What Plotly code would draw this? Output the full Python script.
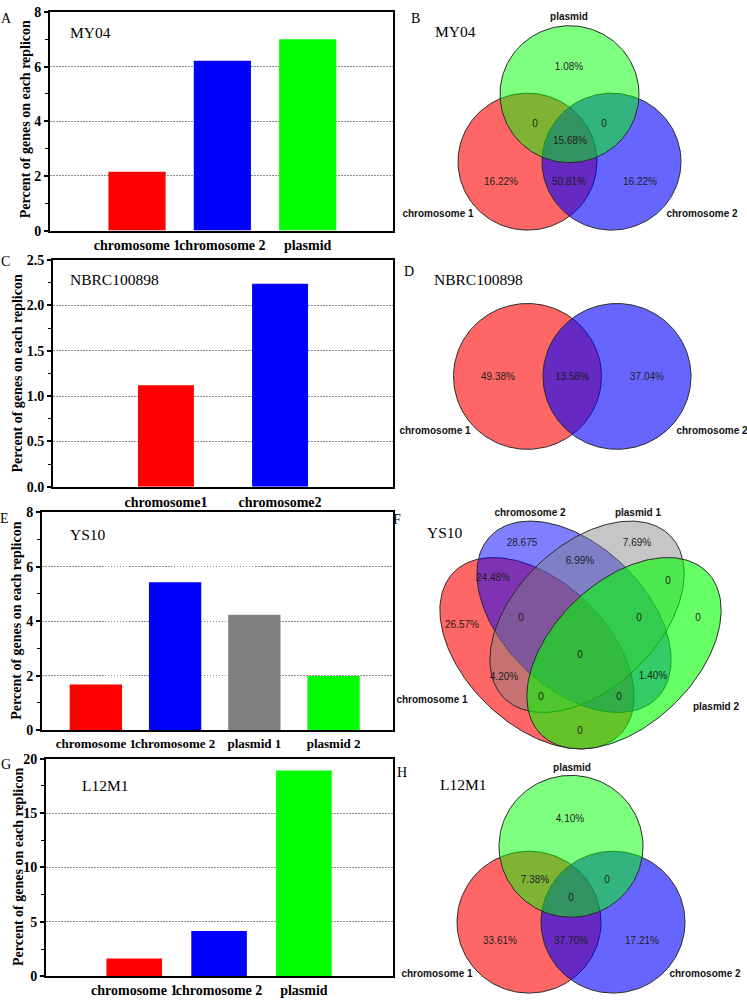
import numpy as np
import plotly.graph_objects as go

W, H = 747, 1007

# ------------------------------------------------------------------ data
a_title = "MY04"
a_categories = ["chromosome 1", "chromosome 2", "plasmid"]
a_values = [2.15, 6.21, 7.0]

c_title = "NBRC100898"
c_categories = ["chromosome1", "chromosome2"]
c_values = [1.12, 2.24]

e_title = "YS10"
e_categories = ["chromosome 1", "chromosome 2", "plasmid 1", "plasmid 2"]
e_values = [1.67, 5.43, 4.24, 1.99]

g_title = "L12M1"
g_categories = ["chromosome 1", "chromosome 2", "plasmid"]
g_values = [1.63, 4.16, 18.9]

y_title = "Percent of genes on each replicon"

# Venn B (MY04): set names and region values
b_sets = ["chromosome 1", "chromosome 2", "plasmid"]
# chr1 only, chr2 only, plasmid only, chr1&chr2, chr1&plasmid, chr2&plasmid, all
b_regions = ["16.22%", "16.22%", "1.08%", "50.81%", "0", "0", "15.68%"]

# Venn D (NBRC100898)
d_sets = ["chromosome 1", "chromosome 2"]
# chr1 only, both, chr2 only
d_regions = ["49.38%", "13.58%", "37.04%"]

# Venn F (YS10)
f_sets = ["chromosome 1", "chromosome 2", "plasmid 1", "plasmid 2"]
# c1, c2, p1, p2, c1c2, c1p1, c1p2, c2p1, c2p2, p1p2, c1c2p1, c1c2p2, c1p1p2, c2p1p2, all
f_regions = ["26.57%", "28.675", "7.69%", "0", "24.48%", "4.20%", "0", "6.99%",
             "1.40%", "0", "0", "0", "0", "0", "0"]

# Venn H (L12M1)
h_sets = ["chromosome 1", "chromosome 2", "plasmid"]
h_regions = ["33.61%", "17.21%", "4.10%", "37.70%", "7.38%", "0", "0"]

# ------------------------------------------------------------------ styles / layout
RED, BLUE, GRAY, GREEN = "#FF0000", "#0000FF", "#808080", "#00FF00"
SERIF = "Liberation Serif"
SANS = "Liberation Sans"

# pixel boxes of bar panels: (left, top, right, bottom)
bar_panels = [
    dict(cats=a_categories, vals=a_values, colors=[RED, BLUE, GREEN], box=(50, 5, 393, 227),
         xr=[-1.02, 3.0], yr=[0, 8], dtick=2, minor=1, width=0.67, fmt="", xfs=14, xtl=1),
    dict(cats=c_categories, vals=c_values, colors=[RED, BLUE], box=(53, 257, 393, 487),
         xr=[-0.99, 1.99], yr=[0, 2.5], dtick=0.5, minor=0.25, width=0.49, fmt=".1f", xfs=14, xtl=1),
    dict(cats=e_categories, vals=e_values, colors=[RED, BLUE, GRAY, GREEN], box=(42, 513, 393, 734),
         xr=[-0.68, 3.75], yr=[0, 8], dtick=2, minor=1, width=0.66, fmt="", xfs=13, xtl=0),
    dict(cats=g_categories, vals=g_values, colors=[RED, BLUE, GREEN], box=(46, 763, 393, 984),
         xr=[-1.04, 3.05], yr=[0, 20], dtick=5, minor=2.5, width=0.655, fmt="", xfs=14, xtl=0),
]

fig = go.Figure()
layout = dict(width=W, height=H, margin=dict(l=0, r=0, t=0, b=0),
              paper_bgcolor="white", plot_bgcolor="rgba(0,0,0,0)", showlegend=False)

for i, p in enumerate(bar_panels, start=1):
    sx = "" if i == 1 else str(i)
    x0, y0, x1, y1 = p["box"]
    fig.add_trace(go.Bar(x=p["cats"], y=p["vals"], marker=dict(color=p["colors"], line=dict(width=0)),
                         width=p["width"], xaxis="x" + sx, yaxis="y" + sx, hoverinfo="skip"))
    layout["xaxis" + sx] = dict(
        domain=[x0 / W, x1 / W], range=p["xr"], anchor="y" + sx, type="category",
        showline=True, linecolor="black", linewidth=2, mirror=True,
        ticks="outside" if p["xtl"] > 0 else "", ticklen=max(p["xtl"], 1), tickcolor="rgba(0,0,0,0)",
        tickangle=0,
        tickfont=dict(family=SERIF, size=p["xfs"], color="black", weight="bold"),
        showgrid=False, zeroline=False, fixedrange=True)
    layout["yaxis" + sx] = dict(
        domain=[1 - y1 / H, 1 - y0 / H], range=p["yr"], anchor="x" + sx,
        showline=True, linecolor="black", linewidth=2, mirror=True,
        ticks="outside", ticklen=4, tickwidth=1.5, tickcolor="black",
        tick0=0, dtick=p["dtick"], tickformat=p["fmt"],
        minor=dict(ticks="outside", ticklen=3, tickwidth=1.2, dtick=p["minor"], tickcolor="black", showgrid=False),
        showgrid=True, gridcolor="#8a8a8a", gridwidth=1, griddash="1.5px,1.5px",
        zeroline=False, fixedrange=True,
        tickfont=dict(family=SERIF, size=14, color="black", weight="bold"))

# overlay axis in pixel units for Venn diagrams and free text
layout["xaxis5"] = dict(domain=[0, 1], range=[0, W], anchor="y5", visible=False, fixedrange=True)
layout["yaxis5"] = dict(domain=[0, 1], range=[H, 0], anchor="x5", visible=False, fixedrange=True)

OUTLINE = dict(color="#2a2a2a", width=1)


def ellipse_xy(cx, cy, a, b, ang_deg, n=240):
    t = np.linspace(0, 2 * np.pi, n)
    ang = np.deg2rad(ang_deg)
    x = cx + a * np.cos(t) * np.cos(ang) - b * np.sin(t) * np.sin(ang)
    y = cy + a * np.cos(t) * np.sin(ang) + b * np.sin(t) * np.cos(ang)
    return x, y


def add_shape(geom, fill):
    x, y = ellipse_xy(*geom)
    fig.add_trace(go.Scatter(x=x, y=y, mode="lines", fill="toself", fillcolor=fill, line=OUTLINE,
                             xaxis="x5", yaxis="y5", hoverinfo="skip"))


def add_texts(texts, pos, size=10, bold=False, color="#1e1e1e"):
    fig.add_trace(go.Scatter(x=[p[0] for p in pos], y=[p[1] for p in pos], text=texts, mode="text",
                             textposition="middle center",
                             textfont=dict(family=SANS, size=size, color=color,
                                           weight="bold" if bold else "normal"),
                             xaxis="x5", yaxis="y5", hoverinfo="skip"))


# --- Venn B
add_shape((527.5, 157, 69.5, 69.5, 0), "rgba(255,0,0,0.6)")
add_shape((611.5, 157, 69.5, 69.5, 0), "rgba(0,0,255,0.6)")
add_shape((569.5, 88.5, 69.5, 69.5, 0), "rgba(0,255,0,0.5)")
add_texts(b_regions, [(501, 178), (640, 178), (569, 61), (569, 178), (535, 119), (604, 119), (570, 137)])
add_texts(b_sets, [(438, 211), (702, 211), (569, 11)], bold=True, color="#111")

# --- Venn D
add_shape((527.5, 375, 74, 74, 0), "rgba(255,0,0,0.6)")
add_shape((617, 375, 74, 74, 0), "rgba(0,0,255,0.6)")
add_texts(d_regions, [(498, 376), (572, 376), (647, 376)])
add_texts(d_sets, [(435, 431), (712, 431)], bold=True, color="#111")

# --- Venn F (four ellipses)
EA, EB = 117, 72
add_shape((537, 656, EA, EB, 45), "rgba(255,0,0,0.6)")
add_shape((574, 619, EA, EB, 45), "rgba(0,0,255,0.5)")
add_shape((587, 619, EA, EB, -45), "rgba(128,128,128,0.45)")
add_shape((624, 656, EA, EB, -45), "rgba(0,255,0,0.6)")
add_texts(f_regions, [(462, 628), (522, 545), (637, 545), (698, 621), (493, 580), (504, 681),
                      (580, 735), (580, 563), (653, 680), (668, 583), (521, 621), (619, 701),
                      (541, 701), (639, 621), (580, 658)])
add_texts(f_sets, [(432, 704), (530, 514), (638, 514), (716, 711)], bold=True, color="#111")

# --- Venn H
add_shape((529, 929, 72, 72, 0), "rgba(255,0,0,0.6)")
add_shape((613, 929, 72, 72, 0), "rgba(0,0,255,0.6)")
add_shape((571, 852, 72, 72, 0), "rgba(0,255,0,0.5)")
add_texts(h_regions, [(500, 949), (642, 949), (570, 825), (571, 949), (535, 887), (607, 887), (571, 905)])
add_texts(h_sets, [(437, 982), (705, 982), (572, 773)], bold=True, color="#111")

# ------------------------------------------------------------------ annotations
ann = []


def note(text, x, y, size, xanchor="center", angle=0, bold=False):
    ann.append(dict(text=text, x=x, y=y, xref="x5", yref="y5", showarrow=False, xanchor=xanchor,
                    yanchor="middle", textangle=angle,
                    font=dict(family=SERIF, size=size, color="black", weight="bold" if bold else "normal")))


for letter, (lx, ly) in zip("ABCDEFGH", [(6, 12), (415, 12), (5, 258), (409, 268), (4, 519), (397, 520),
                                         (6, 769), (402, 777)]):
    note(letter, lx, ly, 14)

for t, (tx, ty) in zip([a_title, c_title, e_title, g_title], [(68, 26), (68, 277), (68, 535), (80, 790)]):
    note(t, tx, ty, 15.5, xanchor="left")
for t, (tx, ty) in zip([a_title, c_title, e_title, g_title], [(433, 25), (432, 277), (425, 533), (438, 789)]):
    note(t, tx, ty, 15.5, xanchor="left")

for (tx, ty) in [(25, 114), (17, 372), (17, 623), (18, 873)]:
    note(y_title, tx, ty, 14, angle=-90, bold=True)

layout["annotations"] = ann
fig.update_layout(**layout)

fig.write_html("out.html", config={"displayModeBar": False},
               post_script="document.body.style.margin='0';document.body.style.overflow='hidden';")
